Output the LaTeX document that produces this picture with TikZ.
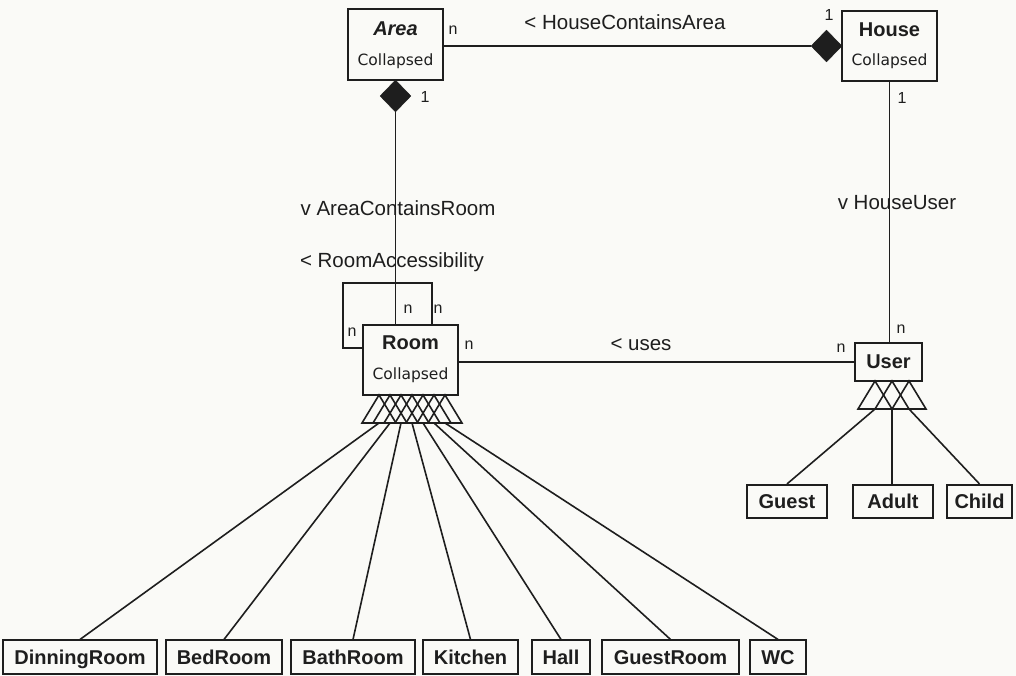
\documentclass[tikz,border=0pt]{standalone}
\usepackage{fontspec}
\setmainfont{Liberation Sans}
\newfontfamily\subfont{DejaVu Sans}
\usetikzlibrary{shapes.geometric}
\definecolor{bg}{RGB}{250,250,247}
\definecolor{ink}{RGB}{30,30,30}
\tikzset{
  ln/.style={draw=ink, line width=1.6pt},
  classbox/.style={draw=ink, line width=1.6pt, rectangle, inner sep=0pt},
  childbox/.style={draw=ink, line width=1.6pt, rectangle, inner sep=0pt,
    minimum height=33.5pt, text height=14.3pt, text depth=0pt,
    font=\bfseries\fontsize{20}{20}\selectfont, text=ink},
  ctitle/.style={font=\bfseries\fontsize{20}{20}\selectfont, inner sep=0pt, text=ink},
  csub/.style={font=\subfont\fontsize{15.5}{15.5}\selectfont, inner sep=0pt, text=ink},
  lbl/.style={font=\fontsize{20.5}{20.5}\selectfont, inner sep=0pt, text=ink},
  mult/.style={font=\fontsize{16}{16}\selectfont, inner sep=0pt, text=ink},
  comp/.style={diamond, fill=ink, draw=ink, inner sep=0pt, minimum width=31pt, minimum height=32pt}
}
\begin{document}
\begin{tikzpicture}[x=1pt,y=-1pt]
\fill[bg] (0,0) rectangle (1016,676);
\useasboundingbox (0,0) rectangle (1016,676);

% class boxes
\node[classbox, minimum width=95pt, minimum height=71pt] (area) at (395.5,44.5) {};
\node[ctitle] (areaT) at (395.5,28.5) {\itshape Area};
\node[csub] (areaS) at (395.5,61) {Collapsed};

\node[classbox, minimum width=95pt, minimum height=70pt] (house) at (889.5,46) {};
\node[ctitle] (houseT) at (889.5,29.5) {House};
\node[csub] (houseS) at (889.5,61) {Collapsed};

\node[classbox, minimum width=95pt, minimum height=70pt] (room) at (410.5,360) {};
\node[ctitle] (roomT) at (410.5,343) {Room};
\node[csub] (roomS) at (410.5,375.5) {Collapsed};

\node[classbox, minimum width=67pt, minimum height=38pt] (user) at (888.5,362) {};
\node[ctitle] (userT) at (888.5,362) {User};

% children of User
\node[childbox, minimum width=80pt] (guest) at (787,501.5) {Guest};
\node[childbox, minimum width=80pt] (adult) at (893,501.5) {Adult};
\node[childbox, minimum width=65pt] (child) at (979.5,501.5) {Child};

% children of Room
\node[childbox, minimum width=154pt] (dinning) at (80,657) {DinningRoom};
\node[childbox, minimum width=116pt] (bed) at (224,657) {BedRoom};
\node[childbox, minimum width=124pt] (bath) at (353,657) {BathRoom};
\node[childbox, minimum width=95pt] (kitchen) at (470.5,657) {Kitchen};
\node[childbox, minimum width=58pt] (hall) at (561,657) {Hall};
\node[childbox, minimum width=137pt] (guestroom) at (670.5,657) {GuestRoom};
\node[childbox, minimum width=56pt] (wc) at (778,657) {WC};

% composition diamonds
\node[comp] (hd) at (826.5,46) {};
\node[comp] (ad) at (395.5,96) {};

% Area -- House
\draw[ln] (area.east |- hd.west) -- (hd.west);
\node[mult] (m1) at (453,30) {n};
\node[mult] (m2) at (829,15) {1};
\node[lbl] (l1) at (625,22) {< HouseContainsArea};

% Area -- Room
\draw[ln] (ad.south) -- (ad.south |- room.north);
\node[mult] (m3) at (425,97) {1};
\node[lbl] (l2) at (398,208) {v AreaContainsRoom};
\node[mult] (m4) at (408,309) {n};

% Room self loop
\draw[ln] ([yshift=12pt]room.west) -| ++(-19,-65) -| ([xshift=21.5pt]room.north);
\node[lbl] (l3) at (392,262) {< RoomAccessibility};
\node[mult] (m5) at (438,309) {n};
\node[mult] (m6) at (352,332) {n};

% House -- User
\draw[ln] (house.south) -- (house.south |- user.north);
\node[mult] (m7) at (902,98) {1};
\node[lbl] (l4) at (897,203) {v HouseUser};
\node[mult] (m8) at (901,329) {n};

% Room -- User
\draw[ln] (user.west) -- (user.west -| room.east);
\node[mult] (m9) at (469,345) {n};
\node[mult] (m10) at (841,348) {n};
\node[lbl] (l5) at (641,345) {< uses};

% generalization triangles of Room
\foreach \c [count=\i] in {379,390,401,412,423,434,445} {
  \draw[ln] (\c-17,423) -- (\c,395) -- (\c+17,423) -- cycle;
  \coordinate (r\i) at (\c,423);
}
\draw[ln] (r1) -- (dinning.north);
\draw[ln] (r2) -- (bed.north);
\draw[ln] (r3) -- (bath.north);
\draw[ln] (r4) -- (kitchen.north);
\draw[ln] (r5) -- (hall.north);
\draw[ln] (r6) -- (guestroom.north);
\draw[ln] (r7) -- (wc.north);

% generalization triangles of User
\foreach \c [count=\i] in {875,892,909} {
  \draw[ln] (\c-17,409) -- (\c,381) -- (\c+17,409) -- cycle;
  \coordinate (u\i) at (\c,409);
}
\draw[ln] (u1) -- (guest.north);
\draw[ln] (u2) -- (u2 |- adult.north);
\draw[ln] (u3) -- (child.north);
\end{tikzpicture}
\end{document}
